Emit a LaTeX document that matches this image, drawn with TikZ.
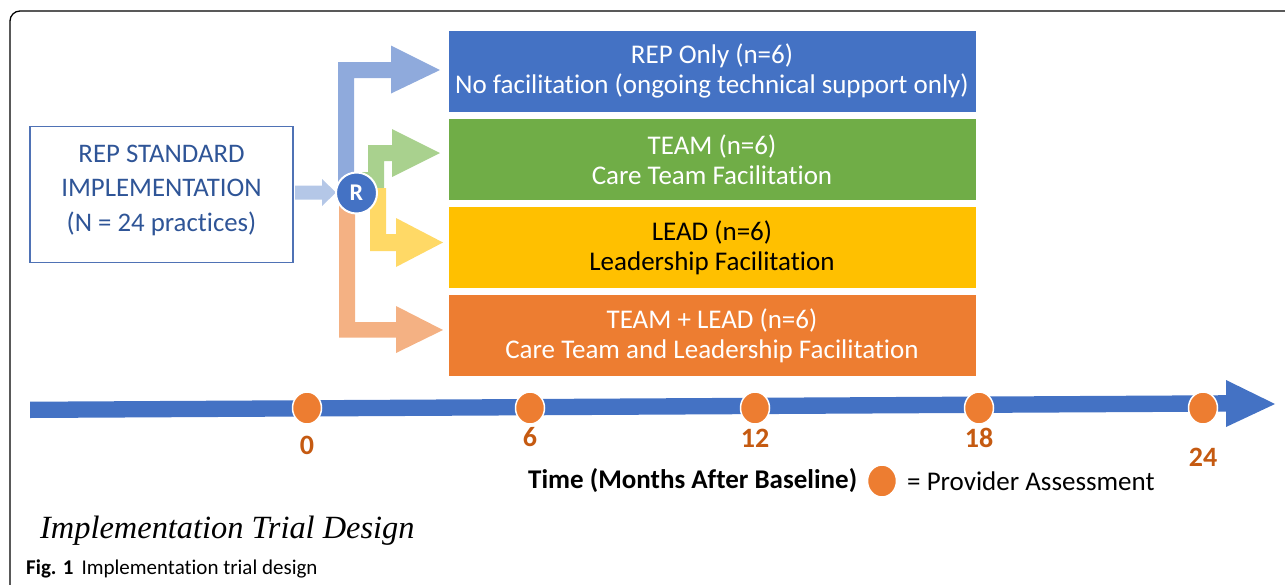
\documentclass[tikz,border=0pt]{standalone}
\usepackage{fontspec}
\setmainfont[Ligatures=NoCommon,RawFeature=-liga]{Carlito}
\newfontfamily\serifit{Liberation Serif}
\usetikzlibrary{shapes.geometric,calc}
\definecolor{boxblue}{HTML}{4472C4}
\definecolor{boxgreen}{HTML}{70AD47}
\definecolor{boxyellow}{HTML}{FFC000}
\definecolor{boxorange}{HTML}{ED7D31}
\definecolor{arrblue}{HTML}{8FAADC}
\definecolor{arrgreen}{HTML}{A9D18E}
\definecolor{arryellow}{HTML}{FFD966}
\definecolor{arrorange}{HTML}{F4B183}
\definecolor{arrsmall}{HTML}{B4C7E7}
\definecolor{repborder}{HTML}{4F72B5}
\definecolor{reptext}{HTML}{2F5597}
\definecolor{labelorange}{HTML}{C55A11}
\tikzset{
  armbox/.style={draw=white, line width=0.8pt, minimum width=528, minimum height=82, inner sep=0pt, align=center, font=\fontsize{27}{30}\selectfont},
  assess/.style={ellipse, fill=boxorange, draw=white, line width=1.5pt, minimum width=29, minimum height=32, inner sep=0pt},
  ticklabel/.style={text=labelorange, font=\fontsize{28}{30}\selectfont\bfseries, inner sep=0pt}
}
\begin{document}
\begin{tikzpicture}[x=1pt,y=-1pt]
\useasboundingbox (0,0) rectangle (1285,584);
% frame
\draw[line width=1.3pt, rounded corners=10] (10,586) -- (10,11) -- (1287,11);

% REP standard box
\node[draw=repborder, line width=1.5pt, minimum width=263, minimum height=136, inner sep=0pt] (rep) at (161.5,194.5) {};
\node[text=reptext, align=center, font=\fontsize{26.8}{34.5}\selectfont, inner sep=0pt] (reptxt) at (161.5,190) {REP STANDARD\\IMPLEMENTATION\\(N = 24 practices)};

% arm boxes
\node[armbox, fill=boxblue, text=white] (repo) at (712,71) {REP Only (n=6)\\No facilitation (ongoing technical support only)};
\node[armbox, fill=boxgreen, text=white] (team) at (712,159.5) {TEAM (n=6)\\Care Team Facilitation};
\node[armbox, fill=boxyellow, text=black] (lead) at (712,247.5) {LEAD (n=6)\\Leadership Facilitation};
\node[armbox, fill=boxorange, text=white] (both) at (712,335.5) {TEAM + LEAD (n=6)\\Care Team and Leadership Facilitation};

% small arrow into R
\fill[arrsmall] (295,185.5) -- (322,185.5) -- (322,179) -- (336,192.5) -- (322,206) -- (322,199.5) -- (295,199.5) -- cycle;

% elbow arrows
\fill[arrblue] (338,190) -- (338,62) -- (391,62) -- (391,45.5) -- (440,70) -- (391,93.5) -- (391,78) -- (354,78) -- (354,190) -- cycle;
\fill[arrgreen] (353,172) -- (368,172) -- (368,145) -- (392,145) -- (392,129) -- (440,153) -- (392,177) -- (392,161) -- (384,161) -- (384,188) -- (353,188) -- cycle;
\fill[arryellow] (370,188) -- (386,188) -- (386,234) -- (396,234) -- (396,218) -- (443,242.5) -- (396,267) -- (396,251) -- (370,251) -- cycle;
\fill[arrorange] (339,195) -- (355,195) -- (355,322) -- (396,322) -- (396,306) -- (443,330) -- (396,353) -- (396,337.5) -- (339,337.5) -- cycle;

% R
\node[circle, fill=boxblue, draw=white, line width=2pt, minimum size=41, inner sep=0pt, text=white, font=\fontsize{24}{26}\selectfont\bfseries] (R) at (356.5,193) {R};

% timeline
\coordinate (tend) at (1275,404);
\fill[boxblue] (30,401.7) -- (1226,395.2) -- (1226,380) -- (tend) -- (1226,427) -- (1226,411.6) -- (30,418) -- cycle;

\node[assess] (c0) at (307,408) {};
\node[assess] (c6) at (530,408) {};
\node[assess] (c12) at (755,408) {};
\node[assess] (c18) at (979,408) {};
\node[assess] (c24) at (1203,408) {};

\node[ticklabel] (l0) at (307,445.5) {0};
\node[ticklabel] (l6) at (530,437.5) {6};
\node[ticklabel] (l12) at (755,438) {12};
\node[ticklabel] (l18) at (979,438) {18};
\node[ticklabel] (l24) at (1203,457.5) {24};

% legend
\node[font=\fontsize{27}{30}\selectfont\bfseries, anchor=west, inner sep=0pt] (timelab) at (528,481) {Time (Months After Baseline)};
\node[assess] (legc) at (882,481) {};
\node[font=\fontsize{27}{30}\selectfont, anchor=west, inner sep=0pt] (legtxt) at (907,481) {= Provider Assessment};

% title and caption
\node[font=\serifit\itshape\fontsize{32.4}{36}\selectfont, anchor=base west, inner sep=0pt] (title) at (40,538) {Implementation Trial Design};
\node[font=\fontsize{21}{24}\selectfont, anchor=base west, inner sep=0pt] (cap) at (26,574) {\textbf{Fig. 1}\hspace{8pt}Implementation trial design};
\end{tikzpicture}
\end{document}
